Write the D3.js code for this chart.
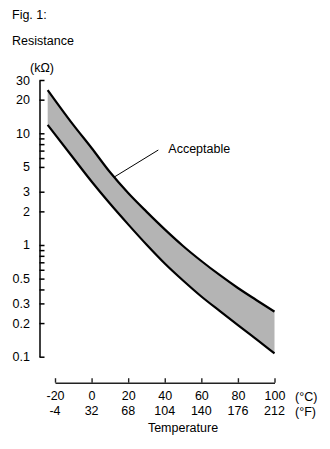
<!DOCTYPE html>
<html>
<head>
<meta charset="utf-8">
<script src="https://cdn.jsdelivr.net/npm/d3@7"></script>
<style>
  html, body { margin: 0; padding: 0; background: #fff; }
  svg { display: block; }
  text { font-family: "Liberation Sans", Arial, sans-serif; font-size: 12.5px; fill: #000; }
</style>
</head>
<body>
<svg id="chart" width="330" height="449"></svg>
<script>
// ---- data ----
const tempsC  = [-24, -10, 0, 10, 20, 30, 40, 50, 60, 70, 80, 90, 100];
const upperK  = [24.4, 11.9, 7.39, 4.5, 2.92, 1.99, 1.38, 0.98, 0.719, 0.539, 0.412, 0.322, 0.253];
const lowerK  = [11.9, 6.01, 3.70, 2.35, 1.53, 1.01, 0.683, 0.481, 0.346, 0.257, 0.192, 0.144, 0.107];
const xTicksC = [-20, 0, 20, 40, 60, 80, 100];
const xTicksF = ["-4", "32", "68", "104", "140", "176", "212"];
const yMajorTicks = [30, 20, 10, 5, 3, 2, 1, 0.5, 0.3, 0.2, 0.1];
const yMinorTicks = [9, 8, 7, 6, 0.9, 0.8, 0.7, 0.6, 0.4];

const svg = d3.select("#chart");

const x = d3.scaleLinear().domain([-20, 100]).range([55, 274.5]);
const y = d3.scaleLog().domain([0.1, 30]).range([356.7, 80]);

const rows = tempsC.map((t, i) => ({ t, hi: upperK[i], lo: lowerK[i] }));

// band
const area = d3.area()
  .x(d => x(d.t))
  .y0(d => y(d.lo))
  .y1(d => y(d.hi))
  .curve(d3.curveMonotoneX);
svg.append("path").datum(rows)
  .attr("d", area)
  .attr("fill", "#b4b4b4");

const lineHi = d3.line().x(d => x(d.t)).y(d => y(d.hi)).curve(d3.curveMonotoneX);
const lineLo = d3.line().x(d => x(d.t)).y(d => y(d.lo)).curve(d3.curveMonotoneX);
svg.append("path").datum(rows).attr("d", lineHi)
  .attr("fill", "none").attr("stroke", "#000").attr("stroke-width", 2.2);
svg.append("path").datum(rows).attr("d", lineLo)
  .attr("fill", "none").attr("stroke", "#000").attr("stroke-width", 2.2);

// y axis (ticks pointing right, labels left)
const yAxisMajor = d3.axisLeft(y)
  .tickValues(yMajorTicks)
  .tickSize(-5)
  .tickSizeOuter(0)
  .tickPadding(9.5)
  .tickFormat(d => String(d));
const gy = svg.append("g").attr("transform", "translate(39.5,0)").call(yAxisMajor);
const yAxisMinor = d3.axisLeft(y)
  .tickValues(yMinorTicks)
  .tickSize(-5)
  .tickSizeOuter(0)
  .tickFormat("");
const gy2 = svg.append("g").attr("transform", "translate(39.5,0)").call(yAxisMinor);
gy2.select(".domain").remove();
[gy, gy2].forEach(g => {
  g.selectAll("path, line").attr("stroke", "#000").attr("stroke-width", 1.5);
  g.selectAll("text").attr("font-family", "Liberation Sans, Arial, sans-serif")
    .attr("font-size", "12.5px").attr("fill", "#000");
});

// x axis (ticks pointing up, labels below)
const xAxis = d3.axisBottom(x)
  .tickValues(xTicksC)
  .tickSize(-4.5)
  .tickSizeOuter(0)
  .tickPadding(8.4)
  .tickFormat(d => String(d));
const gx = svg.append("g").attr("transform", "translate(0,382.7)").call(xAxis);
gx.selectAll("path, line").attr("stroke", "#222").attr("stroke-width", 1.4);
gx.selectAll("text").attr("font-family", "Liberation Sans, Arial, sans-serif")
  .attr("font-size", "12.5px").attr("fill", "#000");

// Fahrenheit labels row
svg.append("g").selectAll("text")
  .data(xTicksC)
  .join("text")
  .attr("x", d => x(d))
  .attr("y", 415)
  .attr("text-anchor", "middle")
  .text((d, i) => xTicksF[i]);

// unit labels
svg.append("text").attr("x", 295).attr("y", 401).text("(°C)");
svg.append("text").attr("x", 295).attr("y", 416).text("(°F)");
svg.append("text").attr("x", 183).attr("y", 431.5).attr("text-anchor", "middle").text("Temperature");

// titles
svg.append("text").attr("x", 12).attr("y", 19).text("Fig. 1:");
svg.append("text").attr("x", 12).attr("y", 45).text("Resistance");
svg.append("text").attr("x", 30).attr("y", 72).text("(kΩ)");

// annotation
const annT = 12.3, annK = 4.05;
svg.append("line")
  .attr("x1", x(annT)).attr("y1", y(annK))
  .attr("x2", 158.3).attr("y2", 150)
  .attr("stroke", "#000").attr("stroke-width", 1);
svg.append("text").attr("x", 168.3).attr("y", 153.3).text("Acceptable");
</script>
</body>
</html>
